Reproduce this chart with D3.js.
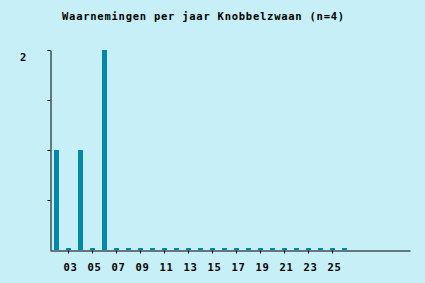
<!DOCTYPE html>
<meta charset="utf-8">
<script src="https://d3js.org/d3.v7.min.js"></script>
<style>
  body { margin: 0; background: #c6eff7; }
  text { font-family: "DejaVu Sans Mono", monospace; font-weight: bold; }
</style>
<div id="chart"></div>
<script>
  // data: sightings per year
  var years = ["02","03","04","05","06","07","08","09","10","11","12","13","14",
               "15","16","17","18","19","20","21","22","23","24","25","26"];
  var counts = [1,0,1,0,2,0,0,0,0,0,0,0,0,0,0,0,0,0,0,0,0,0,0,0,0];
  var tickYears = ["03","05","07","09","11","13","15","17","19","21","23","25"];
  var yTicks = [0.5, 1, 1.5, 2];
  var title = "Waarnemingen per jaar Knobbelzwaan (n=4)";

  var W = 425, H = 283;
  var svg = d3.select("#chart").append("svg")
    .attr("width", W).attr("height", H)
    .style("display", "block");

  svg.append("rect").attr("width", W).attr("height", H).attr("fill", "#c6eff7");

  // 30 slots on the x axis, 12px each
  var x = d3.scaleLinear().domain([0, 30]).range([50, 410]);
  var y = d3.scaleLinear().domain([0, 2]).range([250, 50]);

  svg.append("text")
    .attr("x", 62).attr("y", 20)
    .attr("font-size", 10.5)
    .attr("letter-spacing", 0.75)
    .attr("fill", "#000")
    .text(title);

  // bars (zero values still drawn as a small stub)
  svg.selectAll(".bar")
    .data(counts)
    .enter().append("rect")
      .attr("class", "bar")
      .attr("x", function(d, i) { return x(i) + 4; })
      .attr("width", 5)
      .attr("y", function(d) { return d > 0 ? y(d) : 248; })
      .attr("height", function(d) { return d > 0 ? 250 - y(d) : 2; })
      .attr("fill", "#0088a8");

  // y axis
  var yAxis = svg.append("g")
    .attr("transform", "translate(50.5,0)")
    .call(d3.axisLeft(y).tickValues(yTicks).tickSize(3).tickSizeOuter(0).tickFormat(""));
  yAxis.select(".domain").attr("stroke", "#000");
  yAxis.selectAll(".tick line").attr("stroke", "#000");

  svg.append("text")
    .attr("x", 20).attr("y", y(2) + 11)
    .attr("font-size", 10.5)
    .attr("fill", "#000")
    .text(d3.max(yTicks));

  // x axis
  var xAxis = svg.append("g")
    .attr("transform", "translate(0,250.5)")
    .call(d3.axisBottom(x)
      .tickValues(tickYears.map(function(t) { return years.indexOf(t) + 0.5; }))
      .tickFormat(function(v) { return years[v - 0.5]; })
      .tickSize(3).tickSizeOuter(0));
  xAxis.select(".domain").attr("stroke", "#000");
  xAxis.selectAll(".tick line").attr("stroke", "#000");
  xAxis.selectAll(".tick text")
    .attr("font-family", "DejaVu Sans Mono, monospace")
    .attr("font-weight", "bold")
    .attr("font-size", 10.5)
    .attr("letter-spacing", 0.75)
    .attr("fill", "#000")
    .attr("x", 2)
    .attr("y", 20.5)
    .attr("dy", null);
</script>
